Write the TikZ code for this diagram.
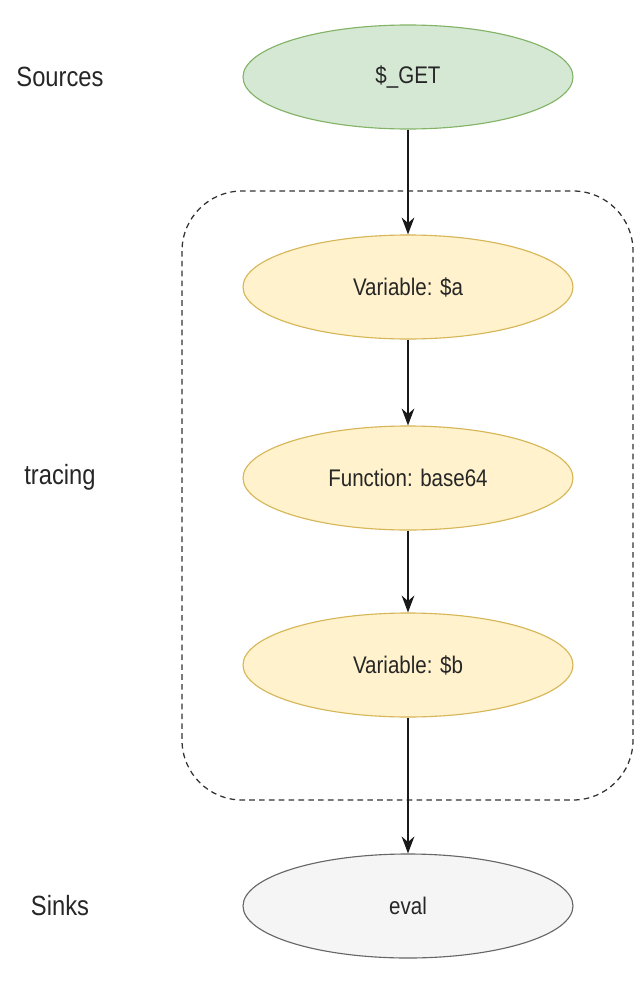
\documentclass[tikz,border=0pt]{standalone}
\usepackage{fontspec}
\usepackage{graphicx}
\usepackage{xcolor}
\usepackage{tikz}
\usetikzlibrary{positioning, arrows.meta, shapes.geometric}
\setmainfont{Liberation Sans}

\definecolor{srcfill}{HTML}{D5E8D4}
\definecolor{srcline}{HTML}{82B366}
\definecolor{varfill}{HTML}{FFF2CC}
\definecolor{varline}{HTML}{D6B656}
\definecolor{sinkfill}{HTML}{F5F5F5}
\definecolor{sinkline}{HTML}{666666}

\newcommand{\tall}[1]{\scalebox{1}[1.17]{#1}}

\tikzset{
	blob/.style={ellipse, draw, line width=0.8pt, minimum width=8.25cm, minimum height=2.6cm, inner sep=0pt, font=\fontsize{14.6}{16}\selectfont, text=black!85},
	srcblob/.style={blob, fill=srcfill, draw=srcline},
	varblob/.style={blob, fill=varfill, draw=varline},
	sinkblob/.style={blob, fill=sinkfill, draw=sinkline},
	lbl/.style={font=\fontsize{16.9}{19}\selectfont, text=black!85},
	flow/.style={-{Stealth[length=12pt, width=9pt]}, line width=1.3pt, black!90}
}

\begin{document}
\begin{tikzpicture}
			\useasboundingbox (0,0) rectangle (16,-24.65);
			
			% group around the tracing steps
			\draw[dash pattern=on 4pt off 3pt, line width=0.9pt, black!80, rounded corners=1.5cm] (4.55,-4.775) rectangle (15.825,-20.0);
			
			\node[lbl] (sources) at (1.5,-1.925) {\tall{Sources}};
			\node[lbl] (tracing) at (1.5,-11.925) {\tall{tracing}};
			\node[lbl] (sinks) at (1.5,-22.65) {\tall{Sinks}};
			
			\node[srcblob] (get) at (10.2,-1.925) {\tall{\$\_GET}};
			\node[varblob] (vara) at (10.2,-7.175) {\tall{Variable: \$a}};
			\node[varblob] (func) at (10.2,-11.95) {\tall{Function: base64}};
			\node[varblob] (varb) at (10.2,-16.625) {\tall{Variable: \$b}};
			\node[sinkblob] (eval) at (10.2,-22.65) {\tall{eval}};
			
			\draw[flow] (get) -- (vara);
			\draw[flow] (vara) -- (func);
			\draw[flow] (func) -- (varb);
			\draw[flow] (varb) -- (eval);
			\end{tikzpicture}
\end{document}
